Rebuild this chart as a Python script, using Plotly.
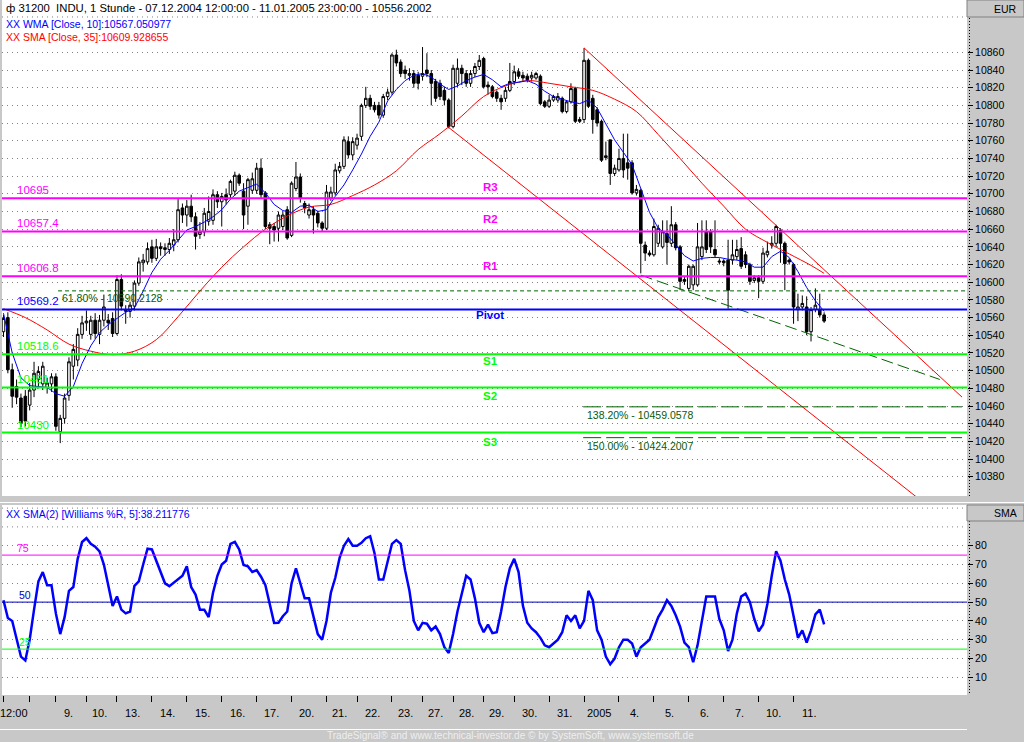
import plotly.graph_objects as go

# ---------------- data ----------------
day_labels = ["12:00", "", "9.", "10.", "13.", "14.", "15.", "16.", "17.", "20.",
              "21.", "22.", "23.", "27.", "28.", "29.", "30.", "31.", "2005",
              "4.", "5.", "6.", "7.", "10.", "11."]
bars_per_day = [6, 6, 7, 7, 8, 8, 8, 8, 8, 8, 7, 8, 7, 7, 7, 7, 8, 8, 8, 8, 8, 8, 8, 8, 8]

opens = [10544,10560,10501,10482,10469,10471,10461,10478,10490,10485,
         10481,10485,10493,10431,10446,10472,10505,10512,10541,10554,
         10541,10557,10541,10557,10557,10559,10542,10603,10567,10567,
         10573,10599,10622,10623,10640,10627,10640,10637,10637,10642,
         10648,10684,10676,10686,10674,10654,10657,10669,10670,10699,
         10691,10699,10699,10703,10721,10703,10686,10704,10704,10729,
         10701,10665,10663,10661,10663,10682,10653,10706,10719,10689,
         10676,10682,10678,10667,10661,10695,10701,10726,10731,10759,
         10744,10755,10765,10800,10808,10800,10800,10789,10810,10815,
         10857,10849,10840,10834,10836,10834,10833,10840,10836,10827,
         10825,10817,10806,10776,10825,10842,10836,10825,10836,10844,
         10853,10823,10821,10815,10808,10808,10817,10827,10838,10834,
         10833,10831,10831,10833,10804,10799,10806,10806,10808,10793,
         10804,10819,10784,10784,10851,10808,10795,10782,10741,10761,
         10723,10727,10740,10735,10735,10701,10704,10642,10633,10631,
         10644,10640,10655,10644,10665,10640,10603,10593,10597,10597,
         10629,10657,10657,10637,10624,10624,10625,10625,10629,10638,
         10631,10620,10602,10605,10601,10631,10642,10644,10659,10644,
         10625,10620,10569,10572,10572,10544,10569,10569,10563]
highs = [10563,10566,10508,10490,10474,10478,10486,10510,10505,10510,
         10492,10497,10497,10450,10474,10515,10530,10548,10562,10568,
         10562,10565,10563,10586,10564,10566,10608,10609,10574,10578,
         10602,10628,10632,10645,10648,10649,10645,10644,10650,10660,
         10695,10689,10693,10699,10679,10668,10684,10697,10705,10703,
         10701,10706,10716,10725,10723,10712,10718,10724,10735,10740,
         10703,10668,10667,10680,10680,10686,10714,10736,10723,10692,
         10689,10686,10681,10669,10710,10708,10734,10736,10765,10765,
         10764,10768,10802,10821,10812,10804,10804,10813,10819,10859,
         10863,10852,10845,10842,10840,10838,10866,10859,10840,10830,
         10829,10821,10808,10846,10853,10846,10840,10840,10848,10857,
         10855,10827,10823,10817,10812,10821,10848,10845,10842,10838,
         10836,10838,10838,10835,10806,10812,10812,10814,10810,10806,
         10825,10821,10787,10865,10853,10812,10798,10784,10759,10761,
         10733,10751,10768,10768,10738,10710,10706,10646,10636,10672,
         10665,10670,10670,10686,10668,10642,10606,10620,10620,10667,
         10670,10670,10660,10670,10627,10626,10648,10648,10648,10651,
         10635,10622,10608,10608,10639,10646,10652,10665,10661,10646,
         10627,10622,10587,10585,10584,10572,10593,10587,10566]
lows = [10538,10497,10458,10462,10436,10437,10455,10470,10480,10478,
        10474,10476,10432,10418,10440,10466,10490,10505,10536,10545,
        10535,10536,10530,10550,10546,10538,10540,10568,10553,10560,
        10568,10596,10612,10620,10622,10624,10630,10630,10632,10635,
        10645,10667,10663,10668,10637,10649,10652,10664,10665,10684,
        10663,10688,10694,10698,10709,10660,10665,10700,10700,10694,
        10660,10643,10646,10646,10659,10648,10651,10703,10690,10678,
        10672,10655,10662,10658,10659,10692,10698,10723,10728,10740,
        10738,10750,10760,10797,10795,10792,10785,10786,10806,10812,
        10844,10832,10830,10828,10820,10818,10828,10832,10800,10804,
        10806,10800,10774,10774,10821,10823,10821,10821,10832,10840,
        10819,10812,10808,10804,10795,10804,10815,10823,10830,10827,
        10826,10827,10829,10800,10797,10797,10804,10803,10791,10791,
        10802,10780,10780,10780,10797,10768,10776,10736,10738,10710,
        10720,10725,10718,10716,10699,10698,10610,10624,10629,10629,
        10640,10638,10620,10640,10636,10591,10597,10590,10591,10595,
        10625,10633,10633,10628,10620,10618,10570,10620,10625,10615,
        10616,10597,10599,10582,10598,10628,10638,10640,10622,10591,
        10620,10553,10556,10568,10540,10533,10566,10560,10554]
closes = [10559,10501,10471,10470,10441,10443,10478,10497,10499,10505,
          10486,10493,10437,10446,10469,10510,10524,10541,10554,10556,
          10557,10542,10557,10572,10554,10542,10603,10573,10569,10574,
          10599,10623,10625,10638,10627,10640,10638,10639,10644,10648,
          10682,10676,10686,10674,10652,10657,10678,10680,10699,10691,
          10697,10693,10714,10721,10712,10676,10716,10717,10729,10699,
          10663,10661,10659,10676,10676,10650,10712,10719,10695,10684,
          10682,10676,10667,10661,10702,10702,10727,10731,10761,10744,
          10759,10763,10800,10808,10799,10795,10789,10810,10815,10857,
          10848,10836,10836,10836,10825,10825,10836,10836,10825,10808,
          10810,10806,10776,10842,10842,10836,10825,10836,10844,10851,
          10821,10821,10810,10808,10804,10817,10827,10838,10833,10831,
          10829,10834,10836,10802,10799,10806,10810,10810,10793,10804,
          10819,10782,10782,10851,10799,10784,10780,10738,10743,10723,
          10729,10740,10727,10729,10701,10705,10644,10633,10631,10663,
          10661,10657,10645,10665,10639,10601,10601,10618,10618,10640,
          10640,10637,10640,10631,10623,10622,10591,10631,10637,10618,
          10620,10601,10605,10601,10633,10635,10644,10663,10644,10621,
          10623,10572,10572,10576,10544,10569,10574,10563,10556]

wma_bars = list(range(0, 189, 2))
wma_vals = [10565,10520,10492,10483,10482,10481,10474,10471,10482,10508,
            10528,10543,10552,10559,10566,10571,10590,10611,10626,10636,
            10648,10659,10663,10668,10674,10682,10694,10703,10707,10711,
            10701,10688,10681,10679,10686,10687,10680,10682,10697,10710,
            10727,10745,10765,10781,10805,10818,10828,10834,10836,10832,
            10824,10818,10822,10828,10832,10835,10829,10821,10825,10826,
            10828,10824,10816,10810,10807,10804,10802,10806,10797,10779,
            10761,10747,10733,10706,10679,10661,10654,10642,10630,10624,
            10627,10628,10628,10626,10625,10623,10617,10617,10629,10635,
            10628,10612,10594,10579,10567]

sma_bars = list(range(0, 186, 5)) + [188]
sma_vals = [10570,10560,10546,10530,10522,10518,10522,10535,10561,10590,
            10617,10640,10660,10675,10685,10688,10698,10710,10726,10750,
            10768,10788,10810,10822,10828,10825,10821,10817,10807,10793,
            10767,10740,10712,10686,10660,10645,10632,10619,10610]

willr_vals = [51,41.5,40,30,21,19,30,46,61,66,59,59,44,33,42,56,58,73,82,84,
              81,79.5,77,70,59,48,53,46,44,45,58.7,61,70,78.4,78,72,65,60,58.5,60.5,
              62.5,64,69,58,54,46,46,42,55,64,70,72,81,82,78,69.7,69,66,67,63.5,
              59,48,38.9,39,42.5,45,60,68,60,52,52,42,33,30,40,55,62.8,73.5,
              80,83.5,80,80,81.5,84,85,76,62,62,72,81,83,81,67,56,40,35,39,38.5,
              35,37,33,26,23,33,45,55,64,62,52,39,34,38,33.5,34,45,58,68,73,
              66,48,39,36,34,31,27,26,28,30,34,43,40,43,36,40,56,51,35,30,
              21,17,20,26,30,30,28,21,26,28,30,36,42,46,51,48,43,37,
              28.5,26,18,27,40,53,53,53,41,35,24,30,44,53,54.5,50,41,34.5,38,49,
              64,77,72,62,54,42,31,35,28.5,35,43.5,46,38.2]

pivot_levels = [10695, 10657.4, 10606.8, 10569.2, 10518.6, 10481, 10430]
pivot_names = ["R3", "R2", "R1", "Pivot", "S1", "S2", "S3"]
pivot_value_text = ["10695", "10657.4", "10606.8", "10569.2", "10518.6", "10481", "10430"]
pivot_colors = ["#FF00FF", "#FF00FF", "#FF00FF", "#0000FF", "#00FF00", "#00FF00", "#00FF00"]

fib_levels = [10590.2128, 10459.0578, 10424.2007]
fib_text = ["61.80% - 10590.2128", "138.20% - 10459.0578", "150.00% - 10424.2007"]
fib_start = [12.5, 132.8, 132.8]
fib_end = [221.0, 219.6, 219.6]

upper_trend_x, upper_trend_y = [133, 219.6], [10865, 10470]
lower_trend_x, lower_trend_y = [102, 212], [10775, 10346]
support_trend_x, support_trend_y = [146, 214.5], [10608, 10490]

osc_levels = [75, 50, 25]
osc_colors = ["#FF00FF", "#0000C0", "#00FF00"]

price_ticks = list(range(10380, 10861, 20))
osc_ticks = [10, 20, 30, 40, 50, 60, 70, 80]

# ---------------- layout geometry ----------------
W, H = 1024, 742
ML, MR, MT, MB = 2, 57, 0, 47
PW, PH = W - ML - MR, H - MT - MB


def fx(px):
    return (px - ML) / PW


def fy(py):
    return 1 - (py - MT) / PH


FONT = "Liberation Sans, Arial, sans-serif"
XR = [-0.34, 220.73]
n = len(closes)
bars = list(range(n))

day_starts = []
acc = 0
for c in bars_per_day:
    day_starts.append(acc)
    acc += c

fig = go.Figure()

fig.add_trace(go.Candlestick(
    x=bars, open=opens, high=highs, low=lows, close=closes,
    increasing=dict(line=dict(color="black", width=1), fillcolor="white"),
    decreasing=dict(line=dict(color="black", width=1), fillcolor="black"),
    whiskerwidth=0, xaxis="x", yaxis="y", showlegend=False, hoverinfo="skip"))

fig.add_trace(go.Scatter(x=sma_bars, y=sma_vals, mode="lines",
                         line=dict(color="#FF0000", width=1, shape="spline"),
                         xaxis="x", yaxis="y", showlegend=False, hoverinfo="skip"))
fig.add_trace(go.Scatter(x=wma_bars, y=wma_vals, mode="lines",
                         line=dict(color="#0000FF", width=1),
                         xaxis="x", yaxis="y", showlegend=False, hoverinfo="skip"))

for tx, ty in [(upper_trend_x, upper_trend_y), (lower_trend_x, lower_trend_y)]:
    fig.add_trace(go.Scatter(x=tx, y=ty, mode="lines",
                             line=dict(color="#FF0000", width=1),
                             xaxis="x", yaxis="y", showlegend=False, hoverinfo="skip"))
fig.add_trace(go.Scatter(x=support_trend_x, y=support_trend_y, mode="lines",
                         line=dict(color="#006400", width=1, dash="12px,5px"),
                         xaxis="x", yaxis="y", showlegend=False, hoverinfo="skip"))

for k, lv in enumerate(fib_levels):
    dash = "4px,3px" if k == 0 else "18px,5px"
    fig.add_trace(go.Scatter(x=[fib_start[k], fib_end[k]], y=[lv, lv], mode="lines",
                             line=dict(color="#006400", width=1, dash=dash),
                             xaxis="x", yaxis="y", showlegend=False, hoverinfo="skip"))

fig.add_trace(go.Scatter(x=bars, y=willr_vals, mode="lines",
                         line=dict(color="#0000FF", width=2.5),
                         xaxis="x2", yaxis="y2", showlegend=False, hoverinfo="skip"))

shapes = []
for lv, col in zip(pivot_levels, pivot_colors):
    shapes.append(dict(type="line", xref="paper", x0=0, x1=1, yref="y", y0=lv, y1=lv,
                       line=dict(color=col, width=2), layer="above"))
for lv, col in zip(osc_levels, osc_colors):
    shapes.append(dict(type="line", xref="paper", x0=0, x1=1, yref="y2", y0=lv, y1=lv,
                       line=dict(color=col, width=1), layer="above"))
# header separator grid lines
shapes.append(dict(type="line", xref="paper", x0=0, x1=1, yref="y", y0=10900, y1=10900,
                   line=dict(color="#808080", width=1, dash="1px,4px"), layer="below"))
for gv in [90, 100]:
    shapes.append(dict(type="line", xref="paper", x0=0, x1=1, yref="y2", y0=gv, y1=gv,
                       line=dict(color="#808080", width=1, dash="1px,4px"), layer="below"))
# dotted axis lines on the right
for a, b in [(18, 496), (521, 695)]:
    shapes.append(dict(type="line", xref="paper", x0=fx(969.5), x1=fx(969.5),
                       yref="paper", y0=fy(a), y1=fy(b),
                       line=dict(color="black", width=1, dash="1px,2px")))
# header boxes at right
for a, b in [(0, 17), (505, 521)]:
    shapes.append(dict(type="rect", xref="paper", x0=fx(967), x1=fx(1024),
                       yref="paper", y0=fy(b), y1=fy(a),
                       line=dict(color="#808080", width=1), fillcolor="#C8C8C8"))
# 3d separator lines
shapes.append(dict(type="line", xref="paper", x0=fx(0), x1=fx(1024), yref="paper",
                   y0=fy(502.5), y1=fy(502.5), line=dict(color="white", width=1)))
shapes.append(dict(type="line", xref="paper", x0=fx(0), x1=fx(967), yref="paper",
                   y0=fy(729.5), y1=fy(729.5), line=dict(color="white", width=1)))

ann = []


def text(x, y, s, color="black", size=10.5, xanchor="left", bold=False,
         xref="paper", yref="paper", yshift=0):
    if bold:
        s = "<b>" + s + "</b>"
    ann.append(dict(x=x, y=y, xref=xref, yref=yref, text=s, showarrow=False,
                    xanchor=xanchor, yanchor="middle", yshift=yshift,
                    font=dict(family=FONT, size=size, color=color)))


text(fx(4), fy(8), "ф 31200\u00a0\u00a0INDU, 1 Stunde - 07.12.2004 12:00:00 - 11.01.2005 23:00:00 - 10556.2002",
     size=11.3)
text(fx(4), fy(24), "XX WMA [Close, 10]:10567.050977", "#0000FF")
text(fx(4), fy(37), "XX SMA [Close, 35]:10609.928655", "#FF0000")
text(fx(4), fy(514), "XX SMA(2) [Williams %R, 5]:38.211776", "#0000FF")
text(fx(1019), fy(9), "EUR", xanchor="right")
text(fx(1019), fy(513), "SMA", xanchor="right")
text(fx(510), fy(735.5), "TradeSignal® and www.technical-investor.de © by SystemSoft, www.systemsoft.de",
     "#EEEEEE", size=10, xanchor="center")

name_shift = [11, 12, 10, -6, -7, -9, -9]
for lv, nm, vt, col, sh in zip(pivot_levels, pivot_names, pivot_value_text, pivot_colors, name_shift):
    text(fx(15), lv, vt, col, size=11.5, yref="y", yshift=8)
    text(fx(490), lv, nm, col, size=11.5, xanchor="center", bold=True, yref="y", yshift=sh)

for k, lv in enumerate(fib_levels):
    text(fib_start[k] + 0.4, lv, fib_text[k], "#0A5A0A", size=10.5, xref="x", yref="y",
         yshift=-7 if k == 0 else -8)

for lv, col, xp in zip(osc_levels, osc_colors, [15, 17, 17]):
    text(fx(xp), lv, str(lv), col, size=10.5, yref="y2", yshift=7)

for st, cnt, lab in zip(day_starts, bars_per_day, day_labels):
    if lab:
        text(st + cnt / 2 - 0.5, fy(713), lab, "black", size=11, xanchor="center", xref="x2")

fig.update_layout(
    width=W, height=H,
    margin=dict(l=ML, r=MR, t=MT, b=MB),
    paper_bgcolor="#C8C8C8", plot_bgcolor="white",
    showlegend=False, boxgap=0.15,
    font=dict(family=FONT, size=10.5, color="black"),
    xaxis=dict(domain=[0, 1], range=XR, anchor="y", showticklabels=False, showgrid=False,
               zeroline=False, ticks="", rangeslider=dict(visible=False), fixedrange=True),
    xaxis2=dict(domain=[0, 1], range=XR, anchor="y2", tickvals=day_starts,
                ticktext=[""] * len(day_starts), ticks="outside", ticklen=6,
                tickcolor="black", tickwidth=1, showgrid=False, zeroline=False,
                fixedrange=True),
    yaxis=dict(domain=[fy(496), 1], range=[10358.2, 10919.2], side="right", anchor="x",
               tickvals=price_ticks, ticktext=[str(v) for v in price_ticks],
               ticks="outside", ticklen=5, tickcolor="black",
               showgrid=True, gridcolor="#808080", griddash="1px,4px", gridwidth=1,
               zeroline=False, tickfont=dict(family=FONT, size=10.5, color="black"),
               fixedrange=True),
    yaxis2=dict(domain=[0, fy(505)], range=[0.59, 101.65], side="right", anchor="x2",
                tickvals=osc_ticks, ticktext=[str(v) for v in osc_ticks],
                ticks="outside", ticklen=5, tickcolor="black",
                showgrid=True, gridcolor="#808080", griddash="1px,4px", gridwidth=1,
                zeroline=False, tickfont=dict(family=FONT, size=10.5, color="black"),
                fixedrange=True),
    shapes=shapes,
    annotations=ann,
)

fig.write_html("out.html", config={"displayModeBar": False},
               post_script="document.body.style.margin='0';document.body.style.overflow='hidden';")
